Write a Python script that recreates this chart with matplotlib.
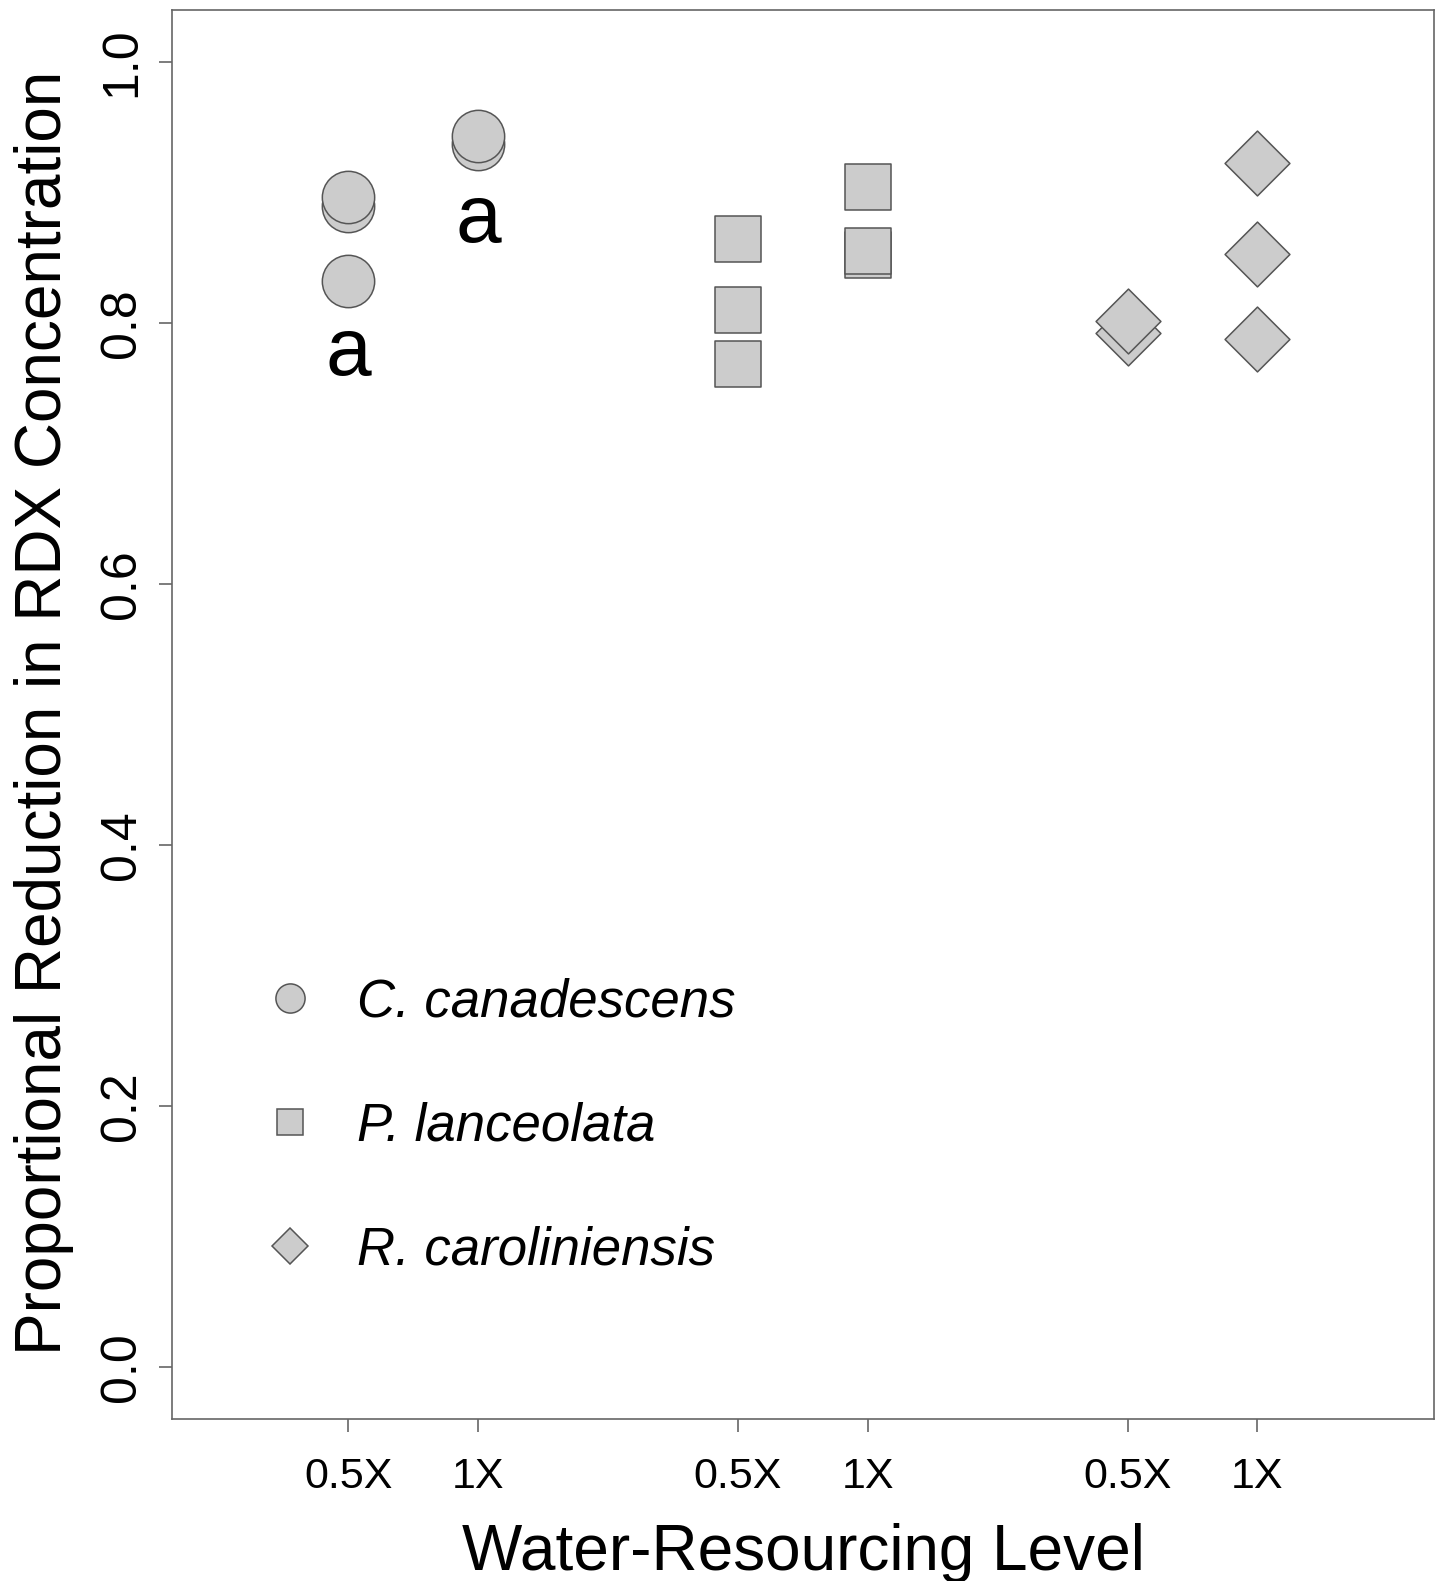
import matplotlib
matplotlib.use("Agg")
import matplotlib.pyplot as plt
from matplotlib.lines import Line2D

plt.rcParams['font.family'] = ['Liberation Sans', 'DejaVu Sans']

# ---- data ----
species = ["C. canadescens", "P. lanceolata", "R. caroliniensis"]
levels = ["0.5X", "1X"]
markers = ["o", "s", "D"]
# values per species, per water level
canadescens_05 = [0.832, 0.8895, 0.897]
canadescens_1 = [0.9375, 0.9434]
lanceolata_05 = [0.7685, 0.8097, 0.8642]
lanceolata_1 = [0.8525, 0.855, 0.9042]
caroliniensis_05 = [0.7925, 0.8014]
caroliniensis_1 = [0.788, 0.853, 0.923]
values = [[canadescens_05, canadescens_1],
          [lanceolata_05, lanceolata_1],
          [caroliniensis_05, caroliniensis_1]]
letters = ["a", "a"]          # significance letters for C. canadescens
letter_y = [0.760, 0.862]

fill = "#cccccc"
edge = "#555555"
axcol = "#666666"

W, H = 1442, 1581
fig = plt.figure(figsize=(W / 100, H / 100), dpi=100)
ax = fig.add_axes([171.7 / W, 1 - 1419 / H, (1434 - 171.7) / W, (1419 - 10) / H])

marker_sizes = {"o": 1420, "s": 1100, "D": 1090}
tick_pos = []
for gi, (sp, mk) in enumerate(zip(species, markers)):
    for li, lv in enumerate(levels):
        xpos = gi * 3 + li + 1
        tick_pos.append(xpos)
        ys = values[gi][li]
        ax.scatter([xpos] * len(ys), ys, marker=mk, s=marker_sizes[mk],
                   facecolor=fill, edgecolor=edge, linewidths=1.1, zorder=3)

for i, (lt, ly) in enumerate(zip(letters, letter_y)):
    ax.text(i + 1, ly, lt, ha="center", va="baseline", fontsize=59)

ax.set_xlim(-0.36, 9.36)
ax.set_ylim(-0.04, 1.04)
ax.set_xticks(tick_pos)
ax.set_xticklabels(levels * len(species))
ax.set_yticks([0.0, 0.2, 0.4, 0.6, 0.8, 1.0])
ax.set_yticklabels(["0.0", "0.2", "0.4", "0.6", "0.8", "1.0"])
for s in ax.spines.values():
    s.set_color(axcol)
    s.set_linewidth(1.2)
ax.tick_params(axis="both", colors=axcol, length=9.4, width=1.2, direction="out")
ax.tick_params(axis="x", labelsize=31, labelcolor="black", pad=18)
ax.tick_params(axis="y", labelsize=36, labelcolor="black", pad=10, labelrotation=90)
for lab in ax.get_yticklabels():
    lab.set_va("center")
    lab.set_ha("right")

fig.text(44 / W, 0.549, "Proportional Reduction in RDX Concentration",
         rotation=90, ha="center", va="center", fontsize=46)
fig.text(803 / W, 11 / H, "Water-Resourcing Level", ha="center", va="baseline",
         fontsize=46)

leg_sizes = {"o": 21, "s": 19, "D": 18.5}
handles = [Line2D([], [], linestyle="none", marker=mk, markersize=leg_sizes[mk],
                  markerfacecolor=fill, markeredgecolor=edge, markeredgewidth=1.1)
           for mk in markers]
leg = ax.legend(handles, species, loc="upper left",
                bbox_to_anchor=(0.052, 0.332), frameon=False,
                prop={"style": "italic", "size": 38}, labelspacing=1.40,
                handlelength=1.0, handletextpad=0.77, borderpad=0)

fig.savefig("out.png", dpi=100)
